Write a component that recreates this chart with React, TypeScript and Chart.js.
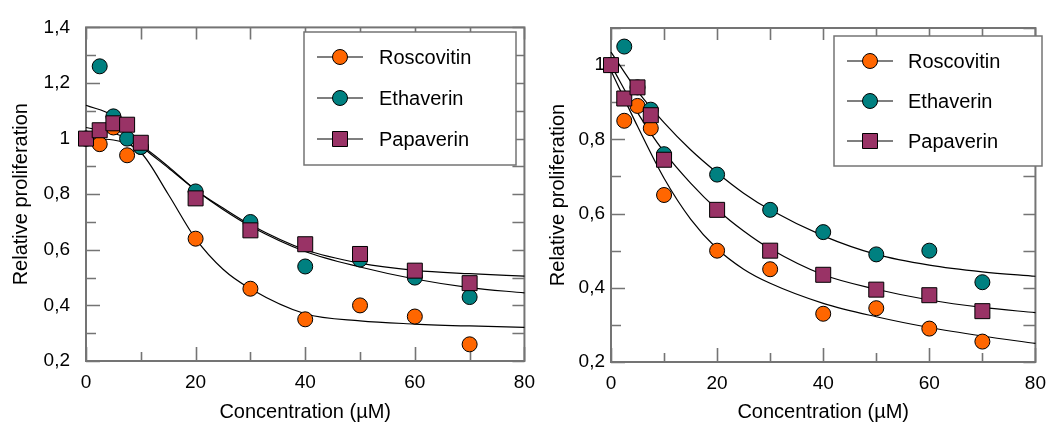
import React, { useEffect, useRef } from 'react';
import { Chart, registerables } from 'chart.js';

Chart.register(...registerables);

// ---------- data ----------
const concentrations = [0, 2.5, 5, 7.5, 10, 20, 30, 40, 50, 60, 70];
const seriesNames = ['Roscovitin', 'Ethaverin', 'Papaverin'];
const seriesColors = ['#FF6600', '#008080', '#993366'];
const seriesShapes = ['circle', 'circle', 'rect'];

// left panel measured points
const leftRoscovitin = [1.0, 0.98, 1.04, 0.94, 0.97, 0.64, 0.46, 0.35, 0.4, 0.36, 0.26];
const leftEthaverin = [1.0, 1.26, 1.08, 1.0, 0.97, 0.81, 0.7, 0.54, 0.565, 0.5, 0.43];
const leftPapaverin = [1.0, 1.03, 1.055, 1.05, 0.985, 0.785, 0.67, 0.62, 0.585, 0.525, 0.48];

// right panel measured points
const rightRoscovitin = [1.0, 0.85, 0.89, 0.83, 0.65, 0.5, 0.45, 0.33, 0.345, 0.29, 0.255];
const rightEthaverin = [1.0, 1.05, 0.94, 0.88, 0.76, 0.705, 0.61, 0.55, 0.49, 0.5, 0.415];
const rightPapaverin = [1.0, 0.91, 0.94, 0.865, 0.745, 0.61, 0.5, 0.435, 0.395, 0.38, 0.337];

// fitted curves
const fitConcentrations = [0, 5, 10, 15, 20, 25, 30, 40, 50, 60, 70, 80];
const leftFitRoscovitin = [1.0, 0.995, 0.95, 0.8, 0.64, 0.53, 0.46, 0.37, 0.344, 0.333, 0.326, 0.321];
const leftFitEthaverin = [1.12, 1.08, 0.975, 0.895, 0.815, 0.745, 0.685, 0.594, 0.538, 0.495, 0.464, 0.445];
const leftFitPapaverin = [1.04, 1.02, 0.975, 0.9, 0.815, 0.75, 0.69, 0.6, 0.552, 0.526, 0.514, 0.505];

const rightFitRoscovitin = [0.985, 0.835, 0.695, 0.585, 0.505, 0.45, 0.412, 0.358, 0.322, 0.293, 0.27, 0.25];
const rightFitEthaverin = [1.035, 0.93, 0.845, 0.772, 0.71, 0.655, 0.61, 0.54, 0.49, 0.461, 0.443, 0.431];
const rightFitPapaverin = [1.0, 0.872, 0.766, 0.682, 0.611, 0.553, 0.505, 0.435, 0.396, 0.367, 0.347, 0.333];

// axes
const xTicks = [0, 20, 40, 60, 80];
const xTickLabels = ['0', '20', '40', '60', '80'];
const leftYTicks = [0.2, 0.4, 0.6, 0.8, 1.0, 1.2, 1.4];
const leftYTickLabels = ['0,2', '0,4', '0,6', '0,8', '1', '1,2', '1,4'];
const rightYTicks = [0.2, 0.4, 0.6, 0.8, 1.0];
const rightYTickLabels = ['0,2', '0,4', '0,6', '0,8', '1'];
const xTitle = 'Concentration (µM)';
const yTitle = 'Relative proliferation';

// ---------- styling ----------
const FONT = '"Liberation Sans", Arial, sans-serif';
const AXIS_GRAY = '#747474';
const H = 425;

type PanelSpec = {
  points: number[][];
  fits: number[][];
  yMin: number;
  yMax: number;
  yTicks: number[];
  yTickLabels: string[];
  yAxisWidth: number;
  yTickPad: number;
  yTitlePadTop: number;
  xAxisHeight: number;
  xTickPad: number;
  padTop: number;
  padRight: number;
  legend: { x1: number; y1: number; x2: number; y2: number; rows: number[]; sx1: number; sx2: number; tx: number };
};

const leftPanel: PanelSpec = {
  points: [leftRoscovitin, leftEthaverin, leftPapaverin],
  fits: [leftFitRoscovitin, leftFitEthaverin, leftFitPapaverin],
  yMin: 0.2,
  yMax: 1.4,
  yTicks: leftYTicks,
  yTickLabels: leftYTickLabels,
  yAxisWidth: 86,
  yTickPad: 16,
  yTitlePadTop: 9,
  xAxisHeight: 64,
  xTickPad: 10,
  padTop: 20,
  padRight: 15,
  legend: { x1: 304, y1: 32, x2: 516, y2: 165, rows: [57, 98, 139], sx1: 317, sx2: 363, tx: 379 },
};

const rightPanel: PanelSpec = {
  points: [rightRoscovitin, rightEthaverin, rightPapaverin],
  fits: [rightFitRoscovitin, rightFitEthaverin, rightFitPapaverin],
  yMin: 0.2,
  yMax: 1.1,
  yTicks: rightYTicks,
  yTickLabels: rightYTickLabels,
  yAxisWidth: 66,
  yTickPad: 6,
  yTitlePadTop: 1,
  xAxisHeight: 63,
  xTickPad: 10,
  padTop: 28,
  padRight: 14,
  legend: { x1: 289, y1: 36, x2: 497, y2: 166, rows: [61, 101, 141], sx1: 302, sx2: 348, tx: 363 },
};

function drawMarker(ctx: CanvasRenderingContext2D, shape: string, x: number, y: number, color: string) {
  ctx.save();
  ctx.fillStyle = color;
  ctx.strokeStyle = '#000';
  ctx.lineWidth = 1;
  ctx.beginPath();
  if (shape === 'rect') {
    ctx.rect(x - 7.5, y - 7.5, 15, 15);
  } else {
    ctx.arc(x, y, 7.5, 0, Math.PI * 2);
  }
  ctx.fill();
  ctx.stroke();
  ctx.restore();
}

function makeFramePlugin() {
  return {
    id: 'frameTicks',
    beforeDatasetsDraw(chart: any) {
      const { ctx, chartArea } = chart;
      const xs = chart.scales.x;
      const ys = chart.scales.y;
      const { left, right, top, bottom } = chartArea;
      ctx.save();
      ctx.strokeStyle = AXIS_GRAY;
      ctx.lineWidth = 1.6;
      // ticks on x (bottom & top)
      for (let v = xs.min; v <= xs.max + 1e-9; v += 10) {
        const px = Math.round(xs.getPixelForValue(v)) + 0.5;
        const major = Math.abs(v % 20) < 1e-6;
        ctx.beginPath();
        ctx.moveTo(px, bottom);
        ctx.lineTo(px, bottom - (major ? 14 : 9));
        ctx.moveTo(px, top);
        ctx.lineTo(px, top + 12);
        ctx.stroke();
      }
      // ticks on y (left & right)
      const nSteps = Math.round((ys.max - ys.min) / 0.1);
      for (let i = 0; i <= nSteps; i++) {
        const v = ys.min + i * 0.1;
        const py = Math.round(ys.getPixelForValue(v)) + 0.5;
        const major = i % 2 === 0;
        ctx.beginPath();
        ctx.moveTo(left, py);
        ctx.lineTo(left + (major ? 14 : 10), py);
        ctx.moveTo(right, py);
        ctx.lineTo(right - 12, py);
        ctx.stroke();
      }
      // frame
      ctx.lineWidth = 2;
      ctx.strokeRect(left, top, right - left, bottom - top);
      ctx.restore();
    },
  };
}

function makeLegendPlugin(spec: PanelSpec) {
  return {
    id: 'boxLegend',
    afterDraw(chart: any) {
      const { ctx } = chart;
      const L = spec.legend;
      ctx.save();
      ctx.fillStyle = '#fff';
      ctx.fillRect(L.x1, L.y1, L.x2 - L.x1, L.y2 - L.y1);
      ctx.strokeStyle = AXIS_GRAY;
      ctx.lineWidth = 1.5;
      ctx.strokeRect(L.x1, L.y1, L.x2 - L.x1, L.y2 - L.y1);
      ctx.font = `20px ${FONT}`;
      ctx.textBaseline = 'middle';
      ctx.textAlign = 'left';
      seriesNames.forEach((name, i) => {
        const y = L.rows[i];
        ctx.strokeStyle = '#000';
        ctx.lineWidth = 1.2;
        ctx.beginPath();
        ctx.moveTo(L.sx1, y);
        ctx.lineTo(L.sx2, y);
        ctx.stroke();
        drawMarker(ctx, seriesShapes[i], (L.sx1 + L.sx2) / 2, y, seriesColors[i]);
        ctx.fillStyle = '#000';
        ctx.fillText(name, L.tx, y + 1);
      });
      ctx.restore();
    },
  };
}

function makeConfig(spec: PanelSpec): any {
  const curveSets = spec.fits.map((fit) => ({
    label: 'fit',
    data: fitConcentrations.map((x, i) => ({ x, y: fit[i] })),
    showLine: true,
    borderColor: '#000',
    borderWidth: 1.2,
    pointRadius: 0,
    pointHoverRadius: 0,
    cubicInterpolationMode: 'monotone',
    fill: false,
    order: 10,
    clip: false,
  }));
  const pointSets = spec.points.map((vals, s) => ({
    label: seriesNames[s],
    data: concentrations.map((x, i) => ({ x, y: vals[i] })),
    showLine: false,
    pointStyle: seriesShapes[s],
    pointRadius: seriesShapes[s] === 'rect' ? 10.6 : 7.5,
    pointHoverRadius: seriesShapes[s] === 'rect' ? 10.6 : 7.5,
    pointBackgroundColor: seriesColors[s],
    pointBorderColor: '#000',
    pointBorderWidth: 1,
    order: 2 - s,
    clip: false,
  }));
  const tickFont = { family: FONT, size: 19 };
  const titleFont = { family: FONT, size: 20 };
  return {
    type: 'scatter',
    data: { datasets: [...curveSets, ...pointSets] },
    options: {
      animation: false,
      responsive: true,
      maintainAspectRatio: false,
      events: [],
      layout: { padding: { left: 0, right: spec.padRight, top: spec.padTop, bottom: 0 } },
      plugins: { legend: { display: false }, tooltip: { enabled: false } },
      scales: {
        x: {
          type: 'linear',
          min: 0,
          max: 80,
          afterBuildTicks: (s: any) => {
            s.ticks = xTicks.map((v) => ({ value: v }));
          },
          afterFit: (s: any) => {
            s.height = spec.xAxisHeight;
          },
          ticks: {
            autoSkip: false,
            maxRotation: 0,
            padding: spec.xTickPad,
            color: '#000',
            font: tickFont,
            callback: (_v: any, i: number) => xTickLabels[i],
          },
          grid: { display: false, drawTicks: false },
          border: { display: false },
          title: { display: true, text: xTitle, color: '#000', font: titleFont, padding: { top: 0, bottom: 1 } },
        },
        y: {
          type: 'linear',
          min: spec.yMin,
          max: spec.yMax,
          afterBuildTicks: (s: any) => {
            s.ticks = spec.yTicks.map((v) => ({ value: v }));
          },
          afterFit: (s: any) => {
            s.width = spec.yAxisWidth;
          },
          ticks: {
            autoSkip: false,
            padding: spec.yTickPad,
            color: '#000',
            font: tickFont,
            callback: (_v: any, i: number) => spec.yTickLabels[i],
          },
          grid: { display: false, drawTicks: false },
          border: { display: false },
          title: {
            display: true,
            text: yTitle,
            color: '#000',
            font: titleFont,
            padding: { top: spec.yTitlePadTop, bottom: 0 },
          },
        },
      },
    },
    plugins: [makeFramePlugin(), makeLegendPlugin(spec)],
  };
}

function Panel({ spec, left, width }: { spec: PanelSpec; left: number; width: number }) {
  const ref = useRef<HTMLCanvasElement>(null);
  useEffect(() => {
    const chart = new Chart(ref.current as HTMLCanvasElement, makeConfig(spec));
    return () => chart.destroy();
  }, [spec]);
  return (
    <div style={{ position: 'absolute', left, top: 0, width, height: H }}>
      <canvas ref={ref} />
    </div>
  );
}

export default function App() {
  return (
    <div style={{ position: 'absolute', left: 0, top: 0, width: 1056, height: H, background: '#fff', overflow: 'hidden' }}>
      <Panel spec={leftPanel} left={0} width={545} />
      <Panel spec={rightPanel} left={545} width={511} />
    </div>
  );
}
